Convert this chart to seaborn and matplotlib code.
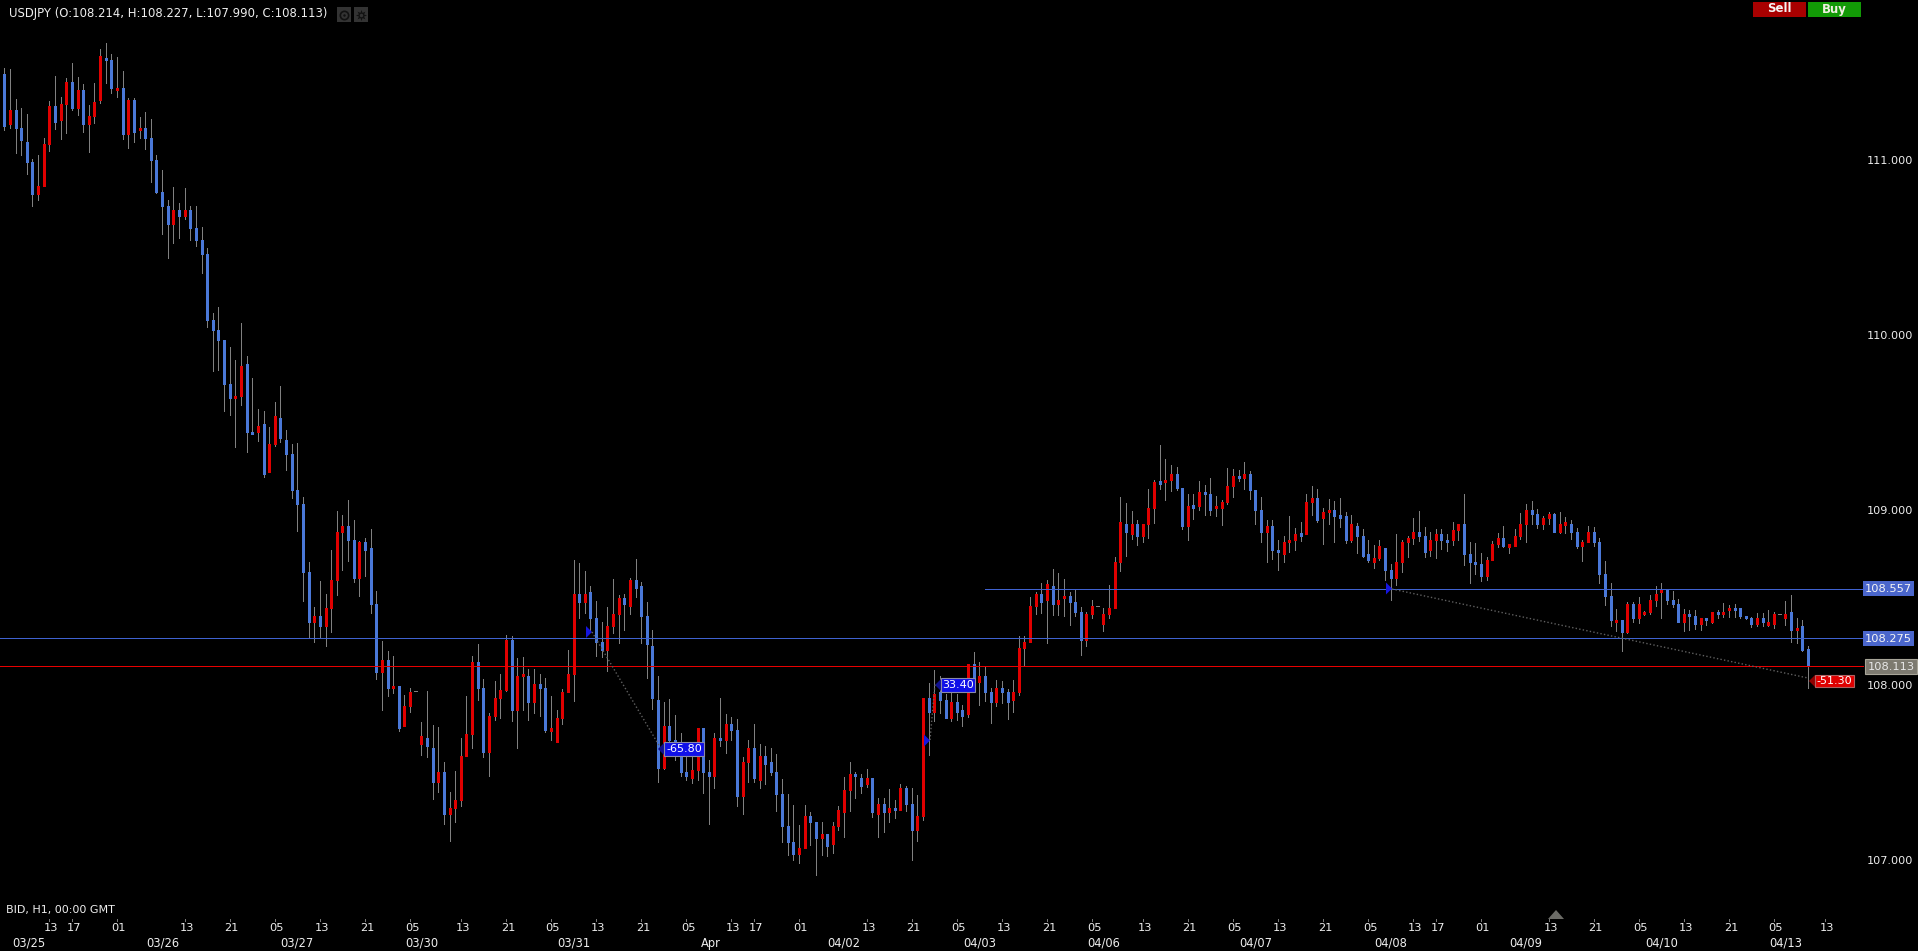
import matplotlib
matplotlib.use("Agg")
import matplotlib.pyplot as plt
from matplotlib.patches import Rectangle, Polygon
from matplotlib.lines import Line2D
import numpy as np
import pandas as pd
import seaborn as sns

opens = [111.497,111.211,111.291,111.189,111.109,110.994,110.811,110.857,111.097,111.314,
111.234,111.326,111.451,111.303,111.406,111.211,111.257,111.349,111.589,111.577,
111.406,111.417,111.154,111.349,111.177,111.189,111.131,111.006,110.823,110.743,
110.640,110.720,110.686,110.720,110.617,110.549,110.469,110.091,110.034,109.977,
109.726,109.646,109.657,109.840,109.451,109.451,109.497,109.223,109.383,109.531,
109.406,109.326,109.120,109.040,108.651,108.366,108.400,108.343,108.446,108.606,
108.880,108.914,108.834,108.617,108.823,108.789,108.469,108.080,108.149,107.989,
108.000,107.771,107.886,107.971,107.669,107.703,107.646,107.451,107.509,107.269,
107.303,107.349,107.600,107.726,108.137,107.989,107.623,107.829,107.931,107.977,
108.263,107.863,108.057,108.057,107.909,108.011,107.989,107.749,107.680,107.817,
107.966,108.069,108.526,108.480,108.537,108.389,108.251,108.206,108.343,108.411,
108.503,108.457,108.606,108.571,108.400,108.229,107.920,107.531,107.771,107.691,
107.606,107.509,107.474,107.520,107.760,107.509,107.486,107.703,107.691,107.783,
107.749,107.371,107.566,107.646,107.463,107.600,107.566,107.509,107.383,107.200,
107.109,107.040,107.074,107.257,107.223,107.131,107.154,107.097,107.200,107.280,
107.406,107.497,107.474,107.440,107.474,107.269,107.326,107.280,107.303,107.291,
107.417,107.326,107.177,107.257,107.931,107.851,107.966,107.920,107.817,107.909,
107.863,107.840,108.126,108.023,108.057,107.966,107.909,107.989,107.966,107.920,
107.966,108.217,108.251,108.457,108.526,108.491,108.571,108.469,108.503,108.514,
108.480,108.423,108.263,108.411,108.457,108.354,108.411,108.446,108.709,108.926,
108.869,108.926,108.857,108.926,109.017,109.166,109.166,109.177,109.211,109.131,
108.914,109.029,109.029,109.109,109.097,109.017,109.017,109.051,109.143,109.200,
109.189,109.211,109.120,109.006,108.880,108.914,108.777,108.754,108.823,108.834,
108.869,108.869,109.051,109.074,108.960,108.994,109.006,108.971,108.971,108.834,
108.914,108.857,108.754,108.709,108.731,108.789,108.663,108.617,108.709,108.823,
108.846,108.880,108.857,108.777,108.834,108.869,108.834,108.834,108.891,108.926,
108.754,108.709,108.697,108.629,108.720,108.811,108.846,108.800,108.800,108.857,
108.926,109.006,108.983,108.926,108.960,108.983,108.880,108.926,108.926,108.880,
108.800,108.823,108.880,108.823,108.640,108.514,108.366,108.377,108.309,108.469,
108.389,108.411,108.423,108.491,108.537,108.549,108.491,108.469,108.366,108.411,
108.400,108.354,108.389,108.366,108.423,108.411,108.434,108.446,108.446,108.400,
108.389,108.354,108.389,108.354,108.354,108.411,108.389,108.423,108.320,108.343,
108.214]

highs = [111.531,111.526,111.354,111.303,111.269,111.011,111.034,111.131,111.343,111.486,
111.366,111.474,111.560,111.480,111.440,111.320,111.446,111.640,111.674,111.611,
111.594,111.514,111.360,111.360,111.251,111.280,111.240,111.034,110.949,110.777,
110.851,110.760,110.846,110.743,110.743,110.623,110.503,110.131,110.166,109.977,
109.937,109.863,110.074,109.886,109.760,109.583,109.571,109.480,109.623,109.714,
109.463,109.383,109.389,109.080,108.709,108.451,108.600,108.526,108.777,109.000,
108.977,109.063,108.949,108.829,108.846,108.897,108.543,108.257,108.200,108.171,
108.000,107.949,107.989,107.971,107.794,107.971,107.777,107.766,107.566,107.394,
107.514,107.703,107.943,108.171,108.240,108.040,107.846,108.029,108.069,108.291,
108.286,108.160,108.166,108.097,108.097,108.069,108.046,107.943,107.863,107.983,
108.206,108.720,108.703,108.657,108.571,108.486,108.366,108.451,108.611,108.520,
108.526,108.617,108.726,108.594,108.480,108.320,108.057,107.909,107.926,107.834,
107.731,107.606,107.606,107.760,107.760,107.577,107.731,107.931,107.840,107.823,
107.811,107.594,107.691,107.783,107.669,107.657,107.646,107.611,107.469,107.383,
107.320,107.206,107.320,107.280,107.223,107.223,107.154,107.223,107.314,107.480,
107.566,107.509,107.497,107.526,107.474,107.360,107.360,107.411,107.349,107.440,
107.429,107.417,107.377,107.931,108.017,108.091,108.057,107.954,107.960,107.954,
107.891,108.126,108.194,108.137,108.109,107.989,108.034,108.029,107.983,108.034,
108.286,108.286,108.509,108.537,108.589,108.606,108.669,108.646,108.611,108.537,
108.554,108.451,108.423,108.491,108.457,108.446,108.577,108.737,109.080,109.046,
109.000,108.949,108.926,109.126,109.177,109.377,109.297,109.263,109.251,109.131,
109.097,109.097,109.171,109.149,109.189,109.086,109.063,109.246,109.240,109.234,
109.280,109.229,109.120,109.080,108.949,108.949,108.834,108.857,108.971,108.903,
108.937,109.097,109.143,109.126,109.017,109.069,109.057,109.074,108.994,108.977,
108.931,108.897,108.834,108.806,108.834,108.789,108.697,108.869,108.834,108.857,
108.960,109.000,108.909,108.880,108.897,108.897,108.869,108.937,108.926,109.097,
108.823,108.817,108.760,108.737,108.829,108.874,108.914,108.806,108.897,108.989,
109.040,109.057,109.011,108.971,108.994,108.989,108.994,108.966,108.949,108.903,
108.834,108.914,108.909,108.846,108.714,108.589,108.440,108.377,108.480,108.480,
108.509,108.429,108.520,108.571,108.589,108.549,108.543,108.497,108.440,108.434,
108.434,108.389,108.389,108.423,108.434,108.474,108.463,108.469,108.446,108.400,
108.394,108.417,108.417,108.434,108.423,108.411,108.486,108.520,108.389,108.377,
108.227]

lows = [111.177,111.189,111.046,111.034,110.926,110.743,110.777,110.857,111.057,111.183,
111.126,111.160,111.291,111.263,111.166,111.051,111.217,111.331,111.446,111.389,
111.366,111.126,111.074,111.109,111.131,111.069,110.880,110.817,110.583,110.446,
110.531,110.560,110.669,110.549,110.514,110.360,110.051,109.800,109.806,109.571,
109.549,109.366,109.606,109.337,109.440,109.400,109.194,109.223,109.372,109.394,
109.234,109.074,108.886,108.486,108.274,108.251,108.280,108.229,108.309,108.520,
108.663,108.714,108.594,108.514,108.629,108.417,108.040,107.863,107.943,107.960,
107.743,107.771,107.851,107.971,107.606,107.594,107.354,107.394,107.211,107.114,
107.223,107.314,107.600,107.646,107.920,107.594,107.486,107.806,107.817,107.971,
107.800,107.646,107.863,107.806,107.846,107.829,107.737,107.691,107.680,107.783,
107.966,107.914,108.389,108.417,108.320,108.171,108.166,108.086,108.303,108.246,
108.320,108.411,108.509,108.246,108.046,107.869,107.451,107.526,107.634,107.577,
107.486,107.463,107.446,107.463,107.389,107.211,107.417,107.657,107.617,107.691,
107.314,107.269,107.451,107.451,107.417,107.440,107.491,107.286,107.109,107.034,
107.006,106.989,107.074,107.091,106.920,107.034,107.029,107.046,107.177,107.137,
107.286,107.360,107.389,107.423,107.251,107.137,107.166,107.223,107.246,107.291,
107.286,107.006,107.114,107.234,107.606,107.800,107.846,107.817,107.800,107.806,
107.771,107.823,107.966,107.891,107.914,107.789,107.886,107.903,107.811,107.851,
107.949,108.114,108.251,108.411,108.417,108.246,108.406,108.406,108.400,108.349,
108.400,108.177,108.229,108.389,108.457,108.314,108.389,108.446,108.657,108.743,
108.840,108.806,108.823,108.846,108.931,109.126,109.063,109.114,109.120,108.897,
108.834,108.954,109.006,108.977,108.977,108.971,108.920,109.040,109.080,109.171,
109.126,109.069,108.926,108.823,108.709,108.726,108.663,108.709,108.766,108.777,
108.829,108.869,108.977,108.937,108.811,108.926,108.823,108.909,108.817,108.823,
108.760,108.737,108.709,108.674,108.720,108.606,108.491,108.577,108.651,108.737,
108.811,108.829,108.737,108.743,108.731,108.783,108.771,108.806,108.834,108.691,
108.589,108.640,108.600,108.606,108.720,108.794,108.794,108.760,108.800,108.840,
108.823,108.926,108.903,108.897,108.926,108.880,108.874,108.874,108.840,108.789,
108.714,108.823,108.800,108.589,108.463,108.343,108.314,108.200,108.303,108.366,
108.360,108.406,108.411,108.457,108.389,108.469,108.451,108.366,108.314,108.320,
108.326,108.320,108.349,108.360,108.389,108.394,108.394,108.394,108.389,108.383,
108.337,108.343,108.343,108.343,108.331,108.411,108.349,108.251,108.246,108.200,
107.990]

closes = [111.200,111.291,111.189,111.120,110.994,110.811,110.857,111.097,111.314,111.223,
111.326,111.451,111.303,111.406,111.211,111.257,111.337,111.600,111.577,111.417,
111.417,111.154,111.349,111.166,111.189,111.131,111.006,110.823,110.743,110.640,
110.720,110.686,110.720,110.617,110.549,110.469,110.091,110.034,109.977,109.726,
109.646,109.657,109.829,109.451,109.440,109.486,109.211,109.383,109.543,109.417,
109.326,109.120,109.040,108.651,108.366,108.400,108.343,108.446,108.606,108.880,
108.914,108.834,108.617,108.823,108.777,108.469,108.080,108.149,107.989,108.000,
107.760,107.886,107.966,107.971,107.714,107.657,107.451,107.509,107.269,107.303,
107.349,107.600,107.726,108.137,107.989,107.623,107.829,107.931,107.977,108.263,
107.863,108.057,108.069,107.909,108.011,107.989,107.749,107.754,107.817,107.966,
108.069,108.526,108.480,108.526,108.389,108.251,108.206,108.343,108.411,108.503,
108.469,108.606,108.560,108.400,108.240,107.931,107.531,107.771,107.691,107.606,
107.509,107.486,107.520,107.760,107.509,107.486,107.703,107.691,107.783,107.749,
107.371,107.566,107.646,107.474,107.600,107.554,107.509,107.383,107.200,107.109,
107.040,107.074,107.257,107.223,107.131,107.154,107.086,107.200,107.291,107.406,
107.497,107.486,107.429,107.474,107.280,107.326,107.280,107.303,107.291,107.417,
107.326,107.177,107.257,107.931,107.851,107.954,107.920,107.817,107.909,107.851,
107.829,108.126,108.023,108.057,107.966,107.909,107.989,107.966,107.909,107.966,
108.217,108.251,108.457,108.526,108.480,108.583,108.469,108.491,108.514,108.480,
108.423,108.263,108.411,108.457,108.457,108.411,108.446,108.709,108.937,108.880,
108.926,108.857,108.926,109.017,109.166,109.160,109.177,109.211,109.131,108.914,
109.029,109.023,109.109,109.097,109.006,109.029,109.051,109.143,109.200,109.189,
109.211,109.120,109.006,108.880,108.914,108.777,108.766,108.823,108.834,108.869,
108.863,109.051,109.074,108.949,108.994,109.006,108.971,108.966,108.834,108.926,
108.857,108.743,108.720,108.731,108.800,108.663,108.617,108.709,108.823,108.846,
108.880,108.857,108.766,108.834,108.869,108.834,108.823,108.891,108.926,108.754,
108.709,108.697,108.629,108.720,108.811,108.846,108.800,108.806,108.857,108.926,
109.006,108.983,108.926,108.960,108.983,108.880,108.926,108.931,108.880,108.800,
108.823,108.880,108.823,108.640,108.514,108.377,108.377,108.309,108.469,108.389,
108.469,108.423,108.491,108.526,108.549,108.491,108.469,108.366,108.411,108.400,
108.354,108.389,108.377,108.423,108.411,108.423,108.446,108.434,108.400,108.389,
108.354,108.389,108.366,108.360,108.411,108.411,108.411,108.320,108.331,108.206,
108.113]

hour_tick_index = [8,12,20,32,40,48,56,64,72,81,89,97,105,113,121,129,133,141,153,161,169,177,185,193,
                   202,210,218,226,234,242,250,254,262,274,282,290,298,306,314,323]
hour_tick_labels = ["13","17","01","13","21","05","13","21","05","13","21","05","13","21","05","13","17","01",
                    "13","21","05","13","21","05","13","21","05","13","21","05","13","17","01","13","21","05",
                    "13","21","05","13"]
date_index = [4.3,28.2,52,74,101,125.3,149,173,195,222,246,270,294,316]
date_labels = ["03/25","03/26","03/27","03/30","03/31","Apr","04/02","04/03","04/06","04/07","04/08","04/09","04/10","04/13"]
price_ticks = [111.0,110.0,109.0,108.0,107.0]
level_high, level_mid, level_last = 108.557, 108.275, 108.113

W, H = 1918, 951
BLUE, RED, GRAY = "#4a78d8", "#e00000", "#808080"

sns.set_theme(style="dark", rc={"figure.facecolor": "black", "axes.facecolor": "black", "savefig.facecolor": "black"})
plt.rcParams["font.family"] = ["DejaVu Sans"]

n = len(closes)
idx = np.arange(n)
o, h, l, c = map(np.array, (opens, highs, lows, closes))
direction = np.where(c > o, "up", np.where(c < o, "down", "flat"))
top = np.maximum(o, c)
bot = np.minimum(o, c)
mid = (top + bot) / 2
min_half = 0.0060
top = np.maximum(top, mid + min_half)
bot = np.minimum(bot, mid - min_half)

solid = direction != "flat"
wicks = pd.DataFrame({"candle": np.r_[idx[solid], idx[solid]], "price": np.r_[h[solid], l[solid]]})
wicks["x"] = wicks["candle"]
bodies = pd.DataFrame({
    "candle": np.r_[idx[solid], idx[solid]],
    "price": np.r_[top[solid], bot[solid]],
    "dir": np.r_[direction[solid], direction[solid]],
})
bodies["x"] = bodies["candle"]

fig = plt.figure(figsize=(W / 100, H / 100), dpi=100)
ax = fig.add_axes([0, 0, 1, 1])
ax.set_facecolor("black")

sns.lineplot(data=wicks, x="x", y="price", units="candle", estimator=None,
             color=GRAY, lw=0.72, solid_capstyle="butt", ax=ax, legend=False, sort=False, antialiased=False)
sns.lineplot(data=bodies, x="x", y="price", units="candle", estimator=None, hue="dir",
             palette={"up": RED, "down": BLUE}, lw=2.16, solid_capstyle="butt", ax=ax, legend=False,
             sort=False, antialiased=False)

ax.set_xlim(-0.763, -0.763 + W / 5.636)
ax.set_ylim(111.92 - H / 175, 111.92)
ax.axis("off")

for i in idx[~solid]:
    ax.hlines(o[i], i - 0.3, i + 0.3, color=GRAY, lw=0.72, antialiased=False)

def x_px(x):
    return (x - 4.3) / 5.636

def fx(x):
    return x / W

def fy(y):
    return 1 - y / H

def box(x0, y0, x1, y1, fc, ec="none", lw=0.8):
    fig.add_artist(Rectangle((fx(x0), fy(y1)), (x1 - x0) / W, (y1 - y0) / H, transform=fig.transFigure,
                             fc=fc, ec=ec, lw=lw))

def tri(points, fc):
    fig.add_artist(Polygon([(fx(a), fy(b)) for a, b in points], closed=True, transform=fig.transFigure, fc=fc, ec="none"))

def label(x, y, s, color="#eeeeee", ha="center", size=8.2, weight="normal"):
    fig.text(fx(x), fy(y), s, color=color, ha=ha, va="center", fontsize=size, fontweight=weight)

# levels
ax.plot([x_px(985), x_px(1863)], [level_high, level_high], color="#3f62d0", lw=0.72, antialiased=False)
ax.plot([x_px(0), x_px(1863)], [level_mid, level_mid], color="#3f62d0", lw=0.72, antialiased=False)
ax.plot([x_px(0), x_px(1863)], [level_last, level_last], color="#e80000", lw=0.72, antialiased=False)
box(1863, 581, 1914, 596, "#4a66cc")
label(1888.5, 588.5, f"{level_high:.3f}", "#f4f4f4")
box(1863, 631, 1914, 646, "#4a66cc")
label(1888.5, 638.5, f"{level_mid:.3f}", "#f4f4f4")
box(1865, 659, 1917, 674, "#7d7a70", ec="#a8a598")
label(1891, 666.5, f"{level_last:.3f}", "#e8e8e8")

# trades
DOT = dict(color="#5f5f5f", lw=1.0, dashes=(1, 1.6), transform=fig.transFigure)
for pts in [((592, 632), (660, 747)), ((930, 740), (935, 684)), ((1392, 589), (1808, 678))]:
    fig.add_artist(Line2D([fx(pts[0][0]), fx(pts[1][0])], [fy(pts[0][1]), fy(pts[1][1])], **DOT))
for x0, yc in [(586, 632), (924, 740.5), (1386, 588.5)]:
    tri([(x0, yc - 6), (x0 + 6, yc), (x0, yc + 6)], "#1515e0")
for x0, x1, y0, y1, fc, ec, dark, s in [
    (664, 704, 742, 756, "#1010e8", "#8a8aa8", "#101090", "-65.80"),
    (941, 975, 678, 692, "#1010e8", "#8a8aa8", "#101090", "33.40"),
    (1815, 1854, 675, 687, "#e00000", "#b06060", "#900000", "-51.30"),
]:
    yc = (y0 + y1) / 2
    tri([(x0, yc - 6), (x0 - 6, yc), (x0, yc + 6)], dark)
    box(x0, y0, x1, y1, fc, ec=ec)
    label((x0 + x1) / 2, yc, s, "white", size=8)

# price axis
for p in price_ticks:
    ax.text(1913 / W, p, f"{p:.3f}", transform=ax.get_yaxis_transform(), color="#eeeeee",
            ha="right", va="center", fontsize=8.1)

# time axis
tr = ax.get_xaxis_transform()
ax.vlines(hour_tick_index, fy(921), fy(919), transform=tr, color="#777777", lw=0.72, antialiased=False)
for i, s in zip(hour_tick_index, hour_tick_labels):
    ax.text(i + 0.35, fy(928), s, transform=tr, color="#eeeeee", ha="center", va="center", fontsize=8.2)
for i, s in zip(date_index, date_labels):
    ax.text(i, fy(943), s, transform=tr, color="#eeeeee", ha="center", va="center", fontsize=8.3)
label(6, 910, "BID, H1, 00:00 GMT", ha="left", size=8)
tri([(1548, 919), (1556, 910), (1564, 919)], "#6b6b66")

# header
label(9, 14, "USDJPY (O:108.214, H:108.227, L:107.990, C:108.113)", ha="left", size=8.4)
box(337, 7, 351, 22, "#333333")
box(354, 7, 368, 22, "#333333")
fig.add_artist(Line2D([fx(343.5)], [fy(14.5)], marker="o", ms=6, mfc="none", mec="#111111", mew=1.2, transform=fig.transFigure))
fig.add_artist(Line2D([fx(343.5)], [fy(14.5)], marker="o", ms=1.8, mfc="#111111", mec="none", transform=fig.transFigure))
fig.add_artist(Line2D([fx(360.5)], [fy(14.5)], marker=(8, 1, 0), ms=8, mfc="#111111", mec="none", transform=fig.transFigure))
fig.add_artist(Line2D([fx(360.5)], [fy(14.5)], marker="o", ms=2.5, mfc="#333333", mec="none", transform=fig.transFigure))
box(1753, 2, 1806, 17, "#a80000")
box(1808, 2, 1861, 17, "#129a06")
label(1779.5, 9, "Sell", "#f4f4f4", weight="bold", size=8.5)
label(1834.5, 9, "Buy", "#f0f0e0", weight="bold", size=8.5)

fig.savefig("out.png", dpi=100, facecolor="black")
